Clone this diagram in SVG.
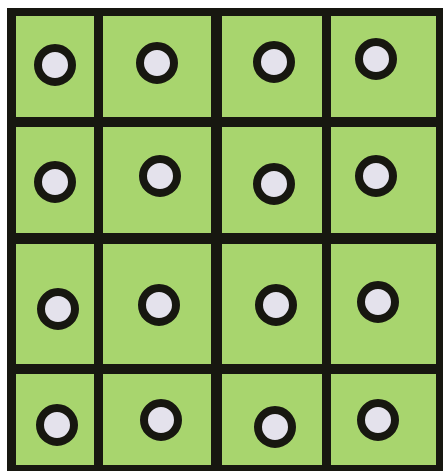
<svg xmlns="http://www.w3.org/2000/svg" width="443" height="471" viewBox="0 0 443 471">
<style>
.cell{fill:#a8d56e}
.dot{fill:#e4e2ec;stroke:#171710;stroke-width:8}
</style>
<rect x="0" y="0" width="443" height="471" fill="#ffffff"/>
<rect id="frame" x="7" y="8" width="436" height="463" fill="#171710"/>
<g id="r0c0"><rect class="cell" x="16" y="16" width="78" height="101"/><circle class="dot" cx="55" cy="65" r="17"/></g>
<g id="r0c1"><rect class="cell" x="103" y="16" width="108" height="101"/><circle class="dot" cx="157" cy="63" r="17"/></g>
<g id="r0c2"><rect class="cell" x="222" y="16" width="100" height="101"/><circle class="dot" cx="274" cy="62" r="17"/></g>
<g id="r0c3"><rect class="cell" x="331" y="16" width="105" height="101"/><circle class="dot" cx="376" cy="59" r="17"/></g>
<g id="r1c0"><rect class="cell" x="16" y="127" width="78" height="106"/><circle class="dot" cx="55" cy="182" r="17"/></g>
<g id="r1c1"><rect class="cell" x="103" y="127" width="108" height="106"/><circle class="dot" cx="160" cy="176" r="17"/></g>
<g id="r1c2"><rect class="cell" x="222" y="127" width="100" height="106"/><circle class="dot" cx="274" cy="184" r="17"/></g>
<g id="r1c3"><rect class="cell" x="331" y="127" width="105" height="106"/><circle class="dot" cx="376" cy="176" r="17"/></g>
<g id="r2c0"><rect class="cell" x="16" y="244" width="78" height="120"/><circle class="dot" cx="58" cy="309" r="17"/></g>
<g id="r2c1"><rect class="cell" x="103" y="244" width="108" height="120"/><circle class="dot" cx="159" cy="305" r="17"/></g>
<g id="r2c2"><rect class="cell" x="222" y="244" width="100" height="120"/><circle class="dot" cx="276" cy="305" r="17"/></g>
<g id="r2c3"><rect class="cell" x="331" y="244" width="105" height="120"/><circle class="dot" cx="378" cy="302" r="17"/></g>
<g id="r3c0"><rect class="cell" x="16" y="374" width="78" height="91"/><circle class="dot" cx="57" cy="425" r="17"/></g>
<g id="r3c1"><rect class="cell" x="103" y="374" width="108" height="91"/><circle class="dot" cx="161" cy="420" r="17"/></g>
<g id="r3c2"><rect class="cell" x="222" y="374" width="100" height="91"/><circle class="dot" cx="275" cy="427" r="17"/></g>
<g id="r3c3"><rect class="cell" x="331" y="374" width="105" height="91"/><circle class="dot" cx="378" cy="420" r="17"/></g>
</svg>
